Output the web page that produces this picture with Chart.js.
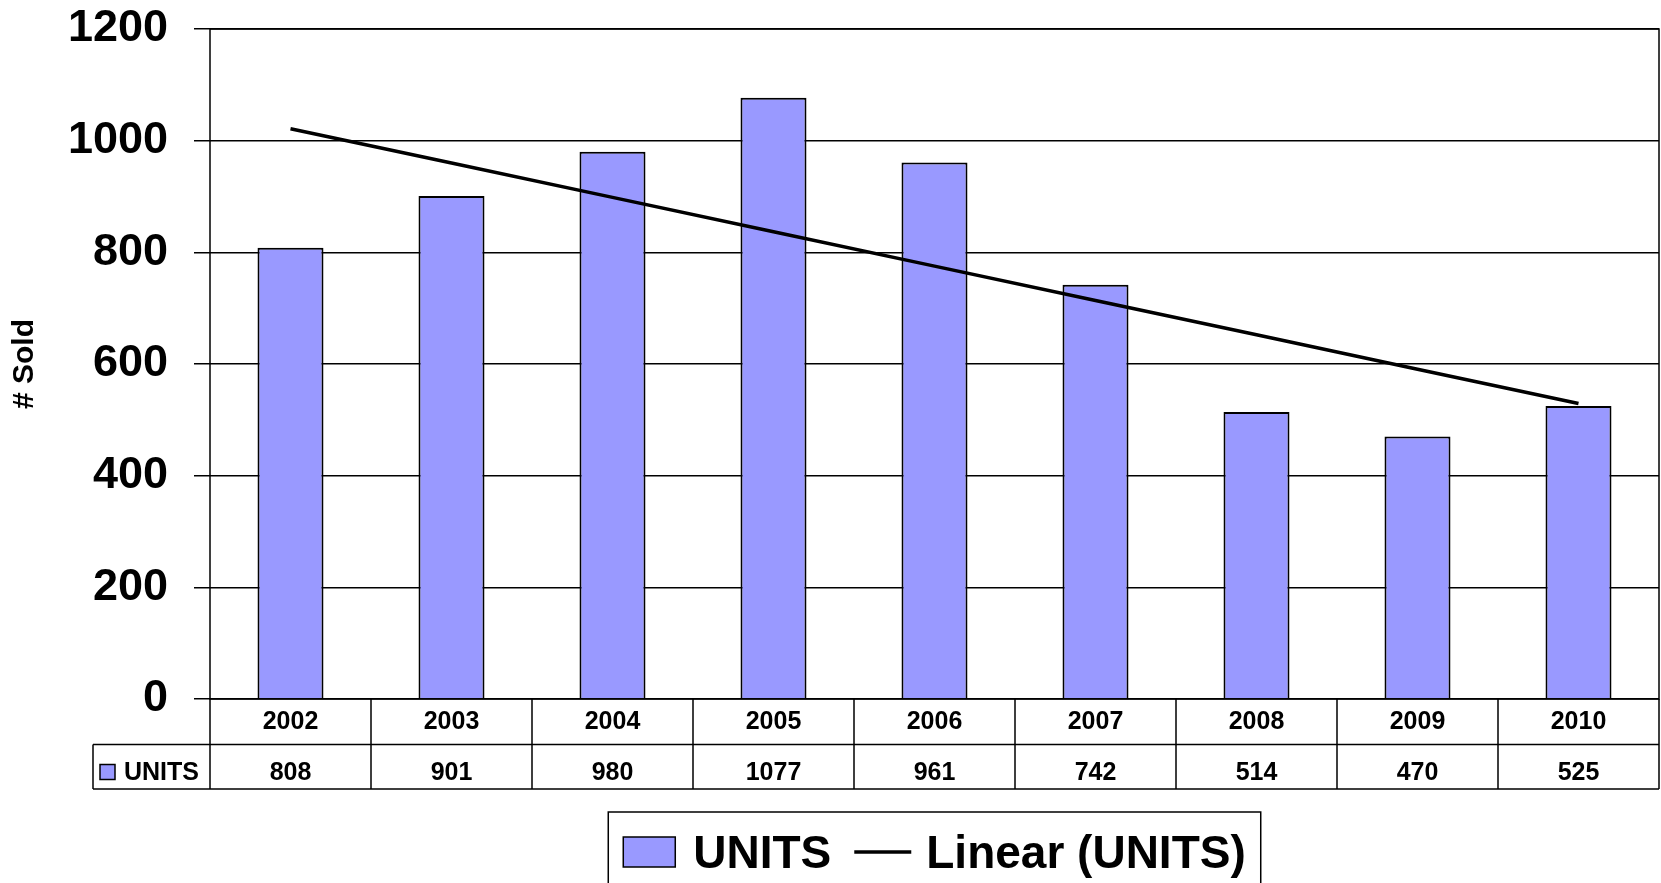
<!DOCTYPE html>
<html>
<head>
<meta charset="utf-8">
<script src="https://cdn.jsdelivr.net/npm/chart.js@4.4.1/dist/chart.umd.min.js"></script>
<style>
  html, body { margin: 0; padding: 0; background: #fff; }
  #wrap { width: 1661px; height: 883px; }
</style>
</head>
<body>
<div id="wrap"><canvas id="unitsChart" width="1661" height="883"></canvas></div>
<script>
const years = ['2002', '2003', '2004', '2005', '2006', '2007', '2008', '2009', '2010'];
const units = [808, 901, 980, 1077, 961, 742, 514, 470, 525];
const yTicks = [0, 200, 400, 600, 800, 1000, 1200];

// linear trendline (least squares) over the units
const n = units.length;
const xMean = (n - 1) / 2;
const yMean = units.reduce((a, b) => a + b, 0) / n;
let sxy = 0, sxx = 0;
units.forEach((v, i) => { sxy += (i - xMean) * (v - yMean); sxx += (i - xMean) * (i - xMean); });
const slope = sxy / sxx;
const trend = units.map((v, i) => yMean + slope * (i - xMean));

const FONT = '"Liberation Sans", Arial, sans-serif';
const barColor = '#9999ff';

const tablePlugin = {
  id: 'tablePlugin',
  afterDraw(chart) {
    const ctx = chart.ctx;
    const ca = chart.chartArea;
    const xs = chart.scales.x;
    const r1 = ca.bottom, r2 = ca.bottom + 45.5, r3 = ca.bottom + 90;
    const keyLeft = 93;
    ctx.save();
    ctx.strokeStyle = '#000';
    ctx.lineWidth = 1.5;

    // plot frame
    ctx.strokeRect(ca.left, ca.top, ca.right - ca.left, ca.bottom - ca.top);

    // cell boundaries
    const bounds = [ca.left];
    for (let i = 1; i < n; i++) {
      bounds.push((xs.getPixelForValue(i - 1) + xs.getPixelForValue(i)) / 2);
    }
    bounds.push(ca.right);
    ctx.beginPath();
    bounds.forEach(b => { ctx.moveTo(b, r1); ctx.lineTo(b, r3); });
    ctx.moveTo(keyLeft, r2); ctx.lineTo(ca.right, r2);
    ctx.moveTo(keyLeft, r3); ctx.lineTo(ca.right, r3);
    ctx.moveTo(keyLeft, r2); ctx.lineTo(keyLeft, r3);
    ctx.stroke();

    // texts
    ctx.fillStyle = '#000';
    ctx.font = 'bold 25px ' + FONT;
    ctx.textAlign = 'center';
    ctx.textBaseline = 'alphabetic';
    years.forEach((y, i) => {
      const cx = xs.getPixelForValue(i);
      ctx.fillText(y, cx, r1 + 30);
      ctx.fillText(String(units[i]), cx, r2 + 35);
    });

    // key in the table
    ctx.fillStyle = barColor;
    ctx.fillRect(100, r2 + 20, 15, 15);
    ctx.strokeRect(100, r2 + 20, 15, 15);
    ctx.fillStyle = '#000';
    ctx.textAlign = 'left';
    ctx.fillText(chart.data.datasets[1].label, 124, r2 + 35);

    // legend box
    const ds = chart.data.datasets;
    ctx.font = 'bold 46px ' + FONT;
    const t1 = ds[1].label, t2 = ds[0].label;
    const w1 = ctx.measureText(t1).width, w2 = ctx.measureText(t2).width;
    const sw = 52, lw = 57, pad = 15;
    const total = sw + 18 + w1 + 23 + lw + 15 + w2;
    const boxW = total + pad * 2;
    const boxL = (ca.left + ca.right) / 2 - boxW / 2;
    const boxT = 812;
    ctx.strokeRect(boxL, boxT, boxW, 120);
    let x = boxL + pad;
    const base = 868, mid = 852;
    ctx.fillStyle = barColor;
    ctx.fillRect(x, mid - 15, sw, 30);
    ctx.strokeRect(x, mid - 15, sw, 30);
    x += sw + 18;
    ctx.fillStyle = '#000';
    ctx.fillText(t1, x, base);
    x += w1 + 23;
    ctx.beginPath();
    ctx.lineWidth = 3.5;
    ctx.moveTo(x, mid); ctx.lineTo(x + lw, mid);
    ctx.stroke();
    x += lw + 15;
    ctx.fillText(t2, x, base);
    ctx.restore();
  }
};

new Chart(document.getElementById('unitsChart').getContext('2d'), {
  type: 'bar',
  data: {
    labels: years,
    datasets: [
      {
        type: 'line',
        label: 'Linear (UNITS)',
        data: trend,
        borderColor: '#000',
        borderWidth: 3.5,
        pointRadius: 0,
        fill: false,
        order: 0
      },
      {
        label: 'UNITS',
        data: units,
        backgroundColor: barColor,
        borderColor: '#000',
        borderWidth: 2,
        barPercentage: 0.41,
        categoryPercentage: 1,
        order: 1
      }
    ]
  },
  options: {
    responsive: false,
    animation: false,
    layout: { padding: { top: 29, right: 2, left: 0, bottom: 0 } },
    plugins: {
      legend: { display: false },
      tooltip: { enabled: false }
    },
    scales: {
      x: {
        ticks: { display: false },
        grid: { display: false },
        border: { display: false },
        afterFit(scale) { scale.height = 184; }
      },
      y: {
        min: 0,
        max: 1200,
        afterBuildTicks(scale) { scale.ticks = yTicks.map(v => ({ value: v })); },
        ticks: {
          color: '#000',
          font: { family: FONT, size: 45, weight: 'bold' },
          padding: 26,
          callback: (v) => String(v)
        },
        grid: { color: '#000', lineWidth: 1.5, tickLength: 16 },
        border: { display: false },
        title: {
          display: true,
          text: '# Sold',
          color: '#000',
          font: { family: FONT, size: 30, weight: 'bold' },
          padding: { top: 7, bottom: 0 }
        },
        afterFit(scale) {
          scale.width = 210;
          scale.paddingTop = 0;
          scale.paddingBottom = 0;
        }
      }
    }
  },
  plugins: [tablePlugin]
});
</script>
</body>
</html>
